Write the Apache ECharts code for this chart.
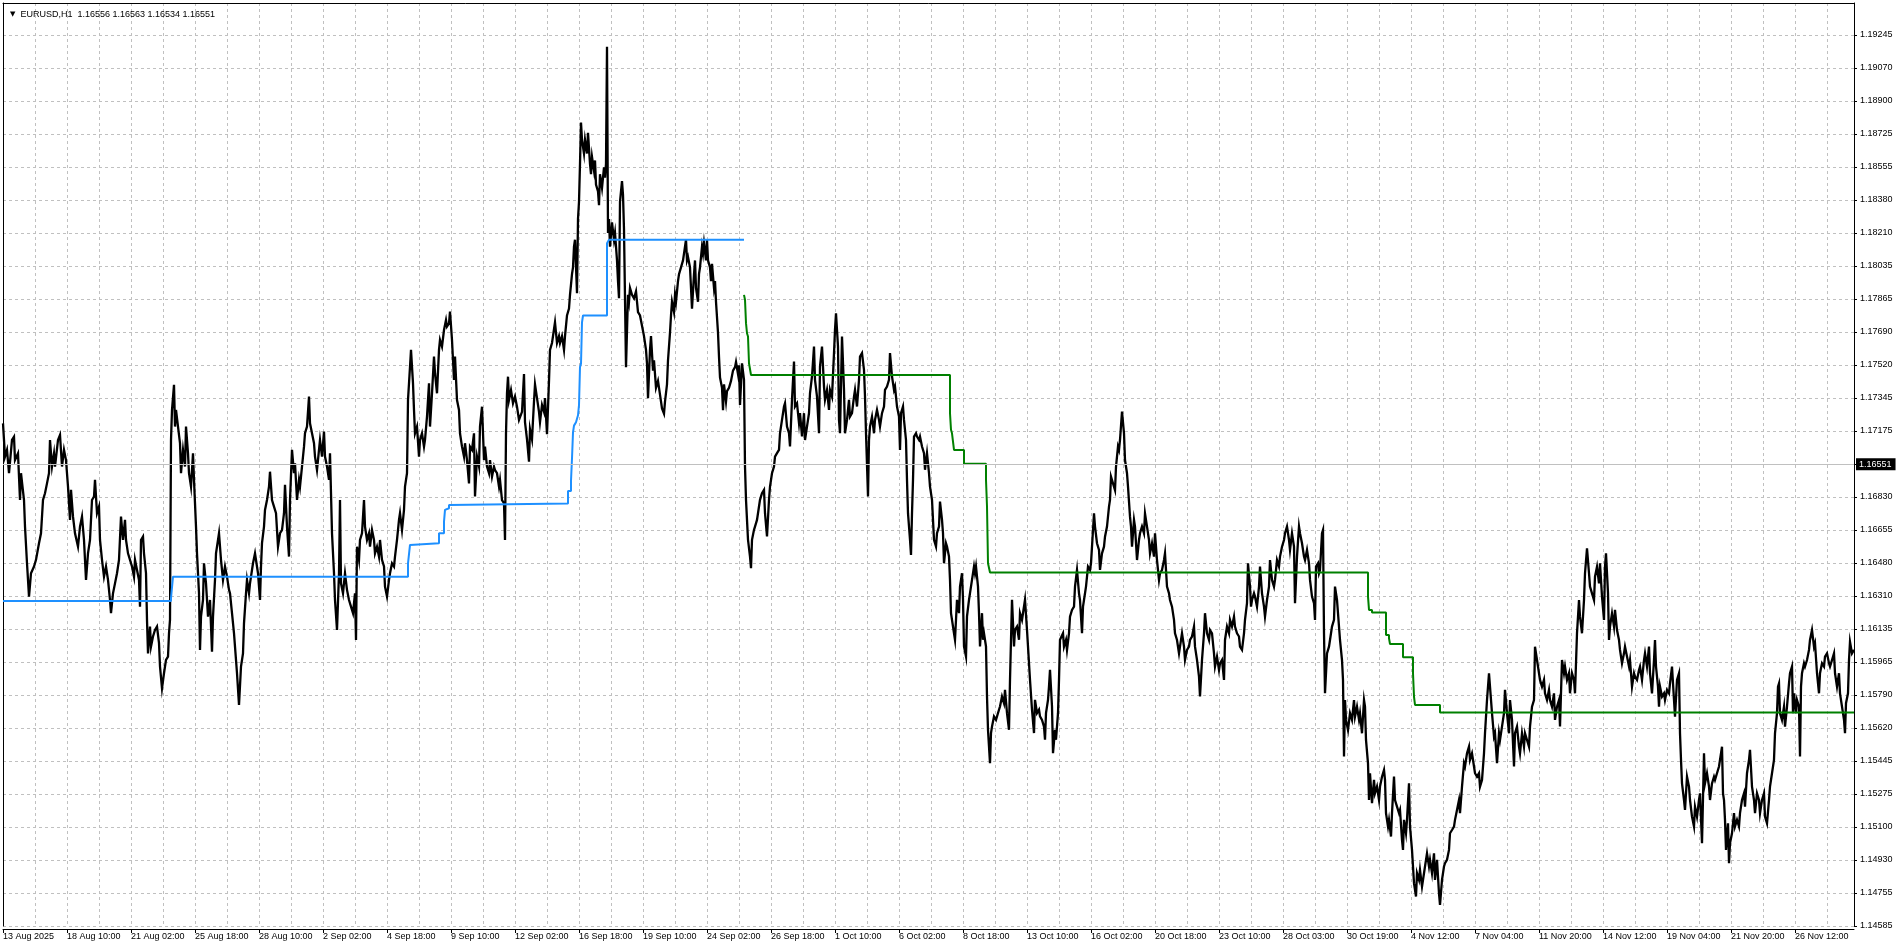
<!DOCTYPE html>
<html><head><meta charset="utf-8">
<script src="https://cdn.jsdelivr.net/npm/echarts@6/dist/echarts.min.js"></script>
<style>html,body{margin:0;padding:0;background:#fff;overflow:hidden}#c{width:1900px;height:950px}</style>
</head><body><div id="c"></div>
<script>
// ---------- header ----------
const symbolName = 'EURUSD,H1';
const lastOHLC = ['1.16556', '1.16563', '1.16534', '1.16551'];
const bidPrice = 1.16551;

// ---------- time axis (bar index, one H1 bar per step) ----------
const xTickLabels = ['13 Aug 2025','18 Aug 10:00','21 Aug 02:00','25 Aug 18:00','28 Aug 10:00','2 Sep 02:00','4 Sep 18:00','9 Sep 10:00','12 Sep 02:00','16 Sep 18:00','19 Sep 10:00','24 Sep 02:00','26 Sep 18:00','1 Oct 10:00','6 Oct 02:00','8 Oct 18:00','13 Oct 10:00','16 Oct 02:00','20 Oct 18:00','23 Oct 10:00','28 Oct 03:00','30 Oct 19:00','4 Nov 12:00','7 Nov 04:00','11 Nov 20:00','14 Nov 12:00','19 Nov 04:00','21 Nov 20:00','26 Nov 12:00'];
const barsPerLabel = 64;
const barsVisible = 1851;

// ---------- price axis labels (bottom to top) ----------
const yTickLabels = ['1.14585','1.14755','1.14930','1.15100','1.15275','1.15445','1.15620','1.15790','1.15965','1.16135','1.16310','1.16480','1.16655','1.16830','1.17000','1.17175','1.17345','1.17520','1.17690','1.17865','1.18035','1.18210','1.18380','1.18555','1.18725','1.18900','1.19070','1.19245'];

// ---------- price path [bar index, price] ----------
const pricePath = [
[0,1.17214],[2,1.17040],[4,1.17075],[6,1.16953],[9,1.17127],[11,1.17144],[12,1.17022],[15,1.17057],[17,1.16813],[18,1.16953],[20,1.16953],[21,1.16813],[22,1.16674],[24,1.16482],[26,1.16308],[28,1.16430],[31,1.16465],[33,1.16500],[36,1.16587],[38,1.16639],[40,1.16813],[42,1.16848],[44,1.16900],[46,1.16953],[47,1.17127],[49,1.16988],[51,1.17057],[52,1.16988],[55,1.17127],[57,1.17153],[59,1.16988],[61,1.17075],[63,1.17022],[65,1.16883],[67,1.16709],[68,1.16866],[70,1.16726],[72,1.16639],[75,1.16569],[77,1.16674],[79,1.16726],[81,1.16604],[83,1.16395],[85,1.16534],[87,1.16604],[89,1.16813],[91,1.16831],[92,1.16918],[94,1.16744],[96,1.16778],[97,1.16604],[99,1.16500],[101,1.16412],[103,1.16465],[105,1.16395],[107,1.16290],[108,1.16221],[110,1.16325],[112,1.16377],[114,1.16430],[116,1.16500],[118,1.16726],[120,1.16604],[122,1.16709],[123,1.16604],[125,1.16534],[127,1.16500],[129,1.16465],[131,1.16412],[132,1.16500],[134,1.16447],[136,1.16395],[137,1.16255],[138,1.16604],[140,1.16622],[141,1.16534],[143,1.16430],[144,1.16186],[145,1.16011],[147,1.16151],[148,1.16046],[150,1.16099],[152,1.16133],[154,1.16151],[156,1.16064],[157,1.15942],[159,1.15828],[161,1.15907],[163,1.15977],[165,1.15994],[166,1.16116],[167,1.16186],[168,1.17127],[169,1.17284],[171,1.17415],[172,1.17197],[173,1.17284],[175,1.17197],[177,1.17110],[178,1.16953],[180,1.17075],[182,1.16988],[183,1.17197],[185,1.17057],[186,1.16953],[188,1.16883],[190,1.17057],[191,1.16918],[193,1.16674],[194,1.16534],[196,1.16325],[197,1.16029],[198,1.16203],[200,1.16290],[201,1.16482],[203,1.16377],[205,1.16203],[207,1.16290],[209,1.16020],[210,1.16203],[212,1.16395],[213,1.16534],[215,1.16604],[216,1.16639],[218,1.16500],[220,1.16395],[222,1.16465],[224,1.16412],[226,1.16343],[227,1.16325],[229,1.16221],[231,1.16116],[232,1.16046],[234,1.15907],[236,1.15741],[238,1.15942],[240,1.16011],[241,1.16168],[243,1.16325],[244,1.16395],[246,1.16325],[247,1.16377],[250,1.16482],[252,1.16534],[255,1.16430],[257,1.16290],[258,1.16465],[259,1.16587],[261,1.16674],[262,1.16761],[264,1.16813],[266,1.16883],[267,1.16961],[269,1.16813],[271,1.16778],[273,1.16744],[275,1.16569],[277,1.16639],[279,1.16656],[281,1.16744],[282,1.16892],[284,1.16674],[286,1.16517],[287,1.16813],[289,1.17075],[291,1.16953],[292,1.17005],[294,1.16813],[296,1.16918],[297,1.16883],[299,1.16988],[301,1.17092],[302,1.17162],[304,1.17197],[306,1.17354],[307,1.17214],[309,1.17162],[311,1.17110],[312,1.17040],[314,1.16970],[316,1.17075],[317,1.17127],[319,1.17040],[321,1.17171],[322,1.17040],[324,1.16988],[326,1.16918],[327,1.17057],[328,1.16848],[329,1.16639],[331,1.16430],[332,1.16290],[334,1.16133],[336,1.16430],[337,1.16813],[338,1.16377],[340,1.16325],[342,1.16430],[344,1.16343],[346,1.16290],[348,1.16255],[350,1.16221],[352,1.16325],[353,1.16081],[354,1.16569],[356,1.16500],[357,1.16604],[359,1.16639],[361,1.16813],[362,1.16674],[364,1.16604],[366,1.16639],[367,1.16569],[369,1.16656],[371,1.16604],[372,1.16534],[374,1.16569],[376,1.16517],[377,1.16604],[379,1.16500],[381,1.16465],[382,1.16360],[384,1.16308],[386,1.16395],[387,1.16430],[389,1.16482],[391,1.16465],[392,1.16517],[394,1.16604],[396,1.16709],[397,1.16744],[399,1.16656],[401,1.16761],[402,1.16883],[404,1.16953],[405,1.17336],[407,1.17510],[408,1.17598],[410,1.17423],[411,1.17284],[412,1.17162],[414,1.17197],[416,1.17040],[417,1.17127],[419,1.17162],[421,1.17092],[422,1.17127],[424,1.17249],[426,1.17423],[427,1.17197],[429,1.17371],[431,1.17563],[432,1.17476],[434,1.17371],[436,1.17598],[437,1.17650],[439,1.17615],[441,1.17702],[443,1.17754],[444,1.17720],[446,1.17737],[447,1.17798],[449,1.17650],[451,1.17441],[452,1.17563],[454,1.17336],[456,1.17284],[457,1.17162],[459,1.17092],[461,1.17040],[462,1.17110],[464,1.17022],[466,1.16900],[467,1.17092],[469,1.17075],[471,1.17162],[472,1.16831],[474,1.17040],[476,1.16988],[477,1.17197],[479,1.17301],[481,1.17022],[482,1.17092],[484,1.16988],[486,1.16953],[487,1.17022],[489,1.16935],[491,1.16988],[492,1.16970],[494,1.16953],[496,1.16883],[497,1.16918],[499,1.16813],[501,1.16796],[502,1.16604],[503,1.17162],[504,1.17371],[505,1.17458],[506,1.17336],[508,1.17388],[510,1.17319],[512,1.17354],[514,1.17301],[516,1.17232],
[517,1.17238],[519,1.17274],[521,1.17472],[522,1.17220],[524,1.17130],[526,1.17013],[527,1.17184],[529,1.17130],[531,1.17328],[532,1.17418],[534,1.17346],[536,1.17274],[537,1.17220],[539,1.17310],[541,1.17274],[542,1.17346],[544,1.17157],[546,1.17436],[547,1.17598],[549,1.17634],[551,1.17706],[552,1.17742],[554,1.17634],[556,1.17670],[557,1.17634],[559,1.17670],[561,1.17598],[562,1.17670],[564,1.17778],[566,1.17814],[567,1.17886],[569,1.17994],[570,1.18030],[571,1.18138],[572,1.18174],[574,1.17895],[575,1.18283],[576,1.18373],[577,1.18571],[578,1.18787],[579,1.18697],[581,1.18625],[582,1.18697],[584,1.18625],[585,1.18733],[587,1.18571],[588,1.18517],[589,1.18607],[591,1.18535],[592,1.18589],[593,1.18463],[595,1.18427],[596,1.18355],[597,1.18517],[599,1.18445],[601,1.18553],[602,1.18499],[603,1.18571],[604,1.19183],[605,1.18210],[606,1.18283],[607,1.18138],[609,1.18265],[611,1.18174],[612,1.18210],[614,1.18066],[615,1.17958],[616,1.17868],[617,1.18373],[619,1.18481],[620,1.18409],[621,1.18228],[623,1.17508],[625,1.17886],[626,1.17850],[627,1.17922],[629,1.17886],[631,1.17868],[633,1.17904],[635,1.17796],[637,1.17778],[639,1.17724],[641,1.17670],[643,1.17598],[644,1.17526],[645,1.17346],[647,1.17598],[648,1.17670],[650,1.17490],[651,1.17544],[653,1.17400],[655,1.17436],[657,1.17364],[659,1.17292],[661,1.17265],[662,1.17328],[664,1.17418],[665,1.17544],[667,1.17688],[668,1.17778],[669,1.17850],[671,1.17796],[672,1.17886],[673,1.17850],[675,1.17958],[676,1.17994],[678,1.18030],[680,1.18066],[681,1.18102],[683,1.18174],[684,1.18066],[685,1.18084],[687,1.18030],[688,1.17922],[689,1.17814],[691,1.17994],[692,1.18066],[693,1.17922],[695,1.17850],[696,1.17994],[697,1.18030],[699,1.18138],[700,1.18102],[701,1.18156],[703,1.18066],[704,1.18174],[705,1.18066],[707,1.18030],[708,1.17958],[709,1.18048],[711,1.17922],[712,1.17958],[713,1.17850],[715,1.17688],[716,1.17562],[717,1.17454],[719,1.17400],[720,1.17283],[721,1.17418],[723,1.17328],[724,1.17382],[726,1.17400],[728,1.17436],[730,1.17490],[732,1.17508],[733,1.17535],[735,1.17472],[736,1.17517],[737,1.17310],
[739,1.17528],[741,1.17441],[742,1.16988],[743,1.16814],[744,1.16709],[745,1.16605],[747,1.16517],[748,1.16456],[749,1.16605],[751,1.16657],[752,1.16674],[754,1.16709],[756,1.16779],[757,1.16814],[759,1.16849],[761,1.16866],[762,1.16744],[764,1.16622],[766,1.16814],[767,1.16883],[769,1.16953],[771,1.16988],[772,1.17040],[774,1.17058],[776,1.17075],[777,1.17162],[779,1.17232],[781,1.17302],[782,1.17319],[784,1.17197],[786,1.17162],[787,1.17093],[789,1.17337],[791,1.17537],[792,1.17302],[794,1.17319],[796,1.17215],[797,1.17267],[799,1.17145],[801,1.17267],[802,1.17127],[804,1.17197],[806,1.17267],[807,1.17371],[809,1.17459],[811,1.17615],[812,1.17441],[814,1.17354],[816,1.17162],[817,1.17511],[819,1.17615],[821,1.17406],[822,1.17337],[824,1.17389],[826,1.17284],[827,1.17389],[829,1.17354],[831,1.17581],[832,1.17703],[833,1.17790],[835,1.17615],[836,1.17232],[837,1.17162],[839,1.17668],[841,1.17389],[842,1.17162],[844,1.17232],[846,1.17337],[847,1.17249],[849,1.17267],[851,1.17354],[852,1.17389],[854,1.17302],[856,1.17441],[857,1.17563],[859,1.17581],[861,1.17493],[862,1.17354],[863,1.17162],[865,1.16831],[866,1.17127],[867,1.17197],[869,1.17249],[871,1.17162],[872,1.17232],[874,1.17284],[876,1.17232],[877,1.17197],[879,1.17267],[881,1.17302],[882,1.17389],[884,1.17406],[886,1.17441],[887,1.17581],[889,1.17459],[891,1.17389],[892,1.17406],[894,1.17302],[896,1.17249],[897,1.17075],[898,1.17267],[900,1.17302],[901,1.17232],[903,1.17127],[904,1.16918],[905,1.16744],[907,1.16605],[908,1.16526],[909,1.16744],[910,1.16918],[911,1.17145],[913,1.17162],[914,1.17145],[916,1.17127],[917,1.17145],[919,1.17093],[921,1.17058],[922,1.16971],[924,1.17058],[926,1.16953],[927,1.16883],[929,1.16814],[930,1.16709],[931,1.16605],[933,1.16570],[934,1.16639],[936,1.16674],[937,1.16805],[939,1.16709],[940,1.16639],[941,1.16482],[943,1.16587],[944,1.16570],[946,1.16517],[947,1.16395],[948,1.16221],[949,1.16186],[951,1.16116],[952,1.16082],[954,1.16291],[956,1.16221],[957,1.16360],[959,1.16430],[960,1.16291],[961,1.16047],[963,1.15994],[964,1.16204],[966,1.16291],[967,1.16326],[969,1.16395],[971,1.16465],[972,1.16430],[973,1.16465],[975,1.16360],[976,1.16221],[977,1.16047],[979,1.16221],[980,1.16082],[981,1.16116],[983,1.16047],[984,1.15785],[985,1.15611],[987,1.15437],[988,1.15594],[989,1.15628],[991,1.15681],[993,1.15663],[996,1.15716],[997,1.15733],[999,1.15785],[1001,1.15750],[1002,1.15820],[1004,1.15698],[1006,1.15611],[1007,1.15872],[1009,1.16291],[1011,1.16047],[1012,1.16134],[1014,1.16151],[1016,1.16082],[1017,1.16221],[1019,1.16186],[1021,1.16256],[1022,1.16291],[1024,1.16134],[1026,1.15960],[1027,1.15872],[1029,1.15716],[1031,1.15594],[1032,1.15768],[1034,1.15698],[1036,1.15716],[1037,1.15681],[1039,1.15663],[1041,1.15628],[1042,1.15559],[1043,1.15698],[1045,1.15768],[1046,1.15838],[1047,1.15925],[1049,1.15733],[1050,1.15489],[1052,1.15611],[1053,1.15559],[1055,1.15698],[1056,1.15872],[1057,1.16082],
[1059,1.16081],[1060,1.16116],[1061,1.16046],[1063,1.16081],[1064,1.16029],[1066,1.16116],[1067,1.16203],[1069,1.16238],[1071,1.16255],[1072,1.16360],[1074,1.16447],[1076,1.16325],[1077,1.16290],[1079,1.16116],[1080,1.16255],[1081,1.16290],[1083,1.16360],[1084,1.16412],[1085,1.16465],[1087,1.16447],[1088,1.16482],[1089,1.16569],[1091,1.16743],[1092,1.16674],[1094,1.16587],[1096,1.16552],[1097,1.16447],[1099,1.16534],[1101,1.16569],[1102,1.16621],[1104,1.16674],[1106,1.16778],[1107,1.16813],[1108,1.16935],[1110,1.16900],[1112,1.16865],[1113,1.16987],[1115,1.17092],[1116,1.17075],[1117,1.17127],[1119,1.17275],[1121,1.17162],[1122,1.17022],[1124,1.16953],[1125,1.16883],[1127,1.16726],[1128,1.16674],[1129,1.16569],[1131,1.16709],[1132,1.16674],[1134,1.16499],[1136,1.16604],[1137,1.16639],[1139,1.16674],[1141,1.16639],[1142,1.16743],[1144,1.16674],[1146,1.16604],[1147,1.16534],[1149,1.16587],[1151,1.16517],[1152,1.16639],[1154,1.16499],[1156,1.16395],[1157,1.16430],[1159,1.16447],[1161,1.16499],[1162,1.16534],[1164,1.16360],[1166,1.16325],[1167,1.16290],[1169,1.16255],[1171,1.16186],[1172,1.16116],[1174,1.16081],[1176,1.16011],[1177,1.16046],[1179,1.16116],[1181,1.16046],[1182,1.15977],[1184,1.16029],[1186,1.16046],[1187,1.16081],[1189,1.16099],[1191,1.16151],[1192,1.16046],[1194,1.15977],[1196,1.15889],[1197,1.15785],[1199,1.15977],[1201,1.16116],[1202,1.16221],[1204,1.16116],[1206,1.16081],[1207,1.16133],[1209,1.16116],[1211,1.16011],[1212,1.15942],[1214,1.15994],[1216,1.15924],[1217,1.15959],[1219,1.15977],[1221,1.15872],[1222,1.16081],[1224,1.16151],[1226,1.16116],[1227,1.16186],[1229,1.16151],[1231,1.16203],[1232,1.16151],[1234,1.16116],[1236,1.16099],[1237,1.16046],[1239,1.16029],[1241,1.16116],[1242,1.16186],[1244,1.16273],[1245,1.16482],[1247,1.16360],[1248,1.16255],[1249,1.16290],[1251,1.16325],[1252,1.16308],[1254,1.16255],[1256,1.16360],[1257,1.16465],[1259,1.16325],[1261,1.16255],[1262,1.16203],[1264,1.16290],[1266,1.16360],[1267,1.16499],[1269,1.16395],[1271,1.16360],[1272,1.16395],[1274,1.16499],[1276,1.16465],[1277,1.16517],[1279,1.16569],[1281,1.16604],[1282,1.16639],[1284,1.16674],[1286,1.16604],[1287,1.16552],[1289,1.16639],[1291,1.16569],[1292,1.16273],[1294,1.16517],[1296,1.16674],[1297,1.16639],[1299,1.16587],[1301,1.16517],[1302,1.16499],[1304,1.16552],[1306,1.16482],[1307,1.16395],[1309,1.16308],[1311,1.16273],[1312,1.16186],[1313,1.16465],[1315,1.16482],[1316,1.16430],[1317,1.16447],[1319,1.16639],[1320,1.16656],[1321,1.16116],[1322,1.15802],[1324,1.16011],[1326,1.16046],[1327,1.16081],[1329,1.16151],[1331,1.16186],[1332,1.16360],[1334,1.16290],[1336,1.16151],
[1337,1.16081],[1339,1.15976],[1340,1.15872],[1341,1.15471],[1342,1.15767],[1343,1.15663],[1345,1.15610],[1347,1.15698],[1349,1.15663],[1351,1.15767],[1352,1.15680],[1354,1.15732],[1356,1.15663],[1357,1.15698],[1359,1.15593],[1361,1.15767],[1362,1.15732],[1363,1.15558],[1365,1.15436],[1366,1.15244],[1367,1.15384],[1369,1.15227],[1371,1.15349],[1372,1.15279],[1374,1.15314],[1376,1.15244],[1377,1.15314],[1379,1.15366],[1381,1.15401],[1382,1.15349],[1383,1.15175],[1385,1.15105],[1386,1.15140],[1388,1.15053],[1389,1.15175],[1391,1.15366],[1392,1.15244],[1394,1.15209],[1396,1.15175],[1397,1.15192],[1399,1.15035],[1400,1.14983],[1401,1.15140],[1403,1.15070],[1404,1.15140],[1406,1.15331],[1407,1.15105],[1409,1.14983],[1410,1.14896],[1411,1.14809],[1413,1.14739],[1414,1.14861],[1416,1.14826],[1417,1.14878],[1419,1.14791],[1421,1.14861],[1422,1.14896],[1424,1.14965],[1426,1.14896],[1427,1.14931],[1429,1.14861],[1431,1.14965],[1432,1.14826],[1434,1.14931],[1436,1.14756],[1437,1.14695],[1439,1.14826],[1441,1.14896],[1442,1.14913],[1444,1.14931],[1446,1.14983],[1447,1.15070],[1449,1.15087],[1451,1.15105],[1452,1.15140],[1454,1.15192],[1456,1.15244],[1457,1.15175],[1459,1.15314],[1461,1.15436],[1462,1.15419],[1464,1.15488],[1466,1.15523],[1467,1.15454],[1469,1.15488],[1471,1.15419],[1472,1.15384],[1474,1.15366],[1476,1.15384],[1477,1.15314],[1479,1.15349],[1481,1.15488],[1482,1.15593],[1484,1.15767],[1486,1.15907],[1487,1.15837],[1489,1.15698],[1491,1.15576],[1492,1.15593],[1494,1.15436],[1496,1.15593],[1497,1.15558],[1499,1.15628],[1501,1.15698],[1502,1.15820],[1504,1.15698],[1506,1.15593],[1507,1.15767],[1509,1.15663],[1511,1.15419],[1512,1.15593],[1514,1.15628],[1516,1.15523],[1517,1.15488],[1519,1.15593],[1521,1.15523],[1522,1.15593],[1524,1.15558],[1526,1.15523],[1527,1.15628],[1529,1.15732],[1531,1.15767],[1532,1.16046],[1534,1.15976],[1536,1.15907],[1537,1.15872],[1539,1.15837],[1541,1.15872],[1542,1.15802],[1544,1.15767],[1546,1.15820],[1547,1.15767],[1549,1.15732],[1551,1.15802],[1552,1.15663],[1554,1.15732],[1556,1.15767],[1557,1.15628],[1559,1.15976],[1561,1.15907],[1562,1.15942],[1564,1.15872],[1566,1.15907],[1567,1.15802],[1569,1.15907],[1571,1.15872],[1572,1.15802],[1574,1.16116],[1576,1.16290],[1577,1.16203],[1579,1.16116],[1581,1.16290],[1582,1.16430],[1584,1.16560],[1586,1.16430],[1587,1.16360],[1589,1.16325],[1591,1.16290],[1592,1.16412],[1594,1.16464],[1596,1.16377],[1597,1.16482],[1599,1.16308],[1601,1.16186],[1602,1.16464],[1603,1.16534],[1605,1.16325],[1606,1.16081],[1607,1.16151],[1609,1.16220],[1611,1.16151],[1612,1.16238],[1614,1.16133],[1616,1.16081],[1617,1.16029],[1619,1.15959],[1621,1.16011],[1622,1.16046],[1624,1.15994],[1626,1.15942],[1627,1.15976],[1629,1.15837],[1631,1.15907],[1632,1.15889],[1634,1.15872],[1636,1.15924],[1637,1.15942],[1639,1.15872],[1641,1.15976],[1642,1.16011],[1644,1.15942],[1646,1.16046],[1647,1.15907],[1649,1.15802],[1651,1.15976],[1652,1.16081],[1653,1.15942],[1655,1.15837],[1656,1.15732],[1657,1.15837],[1659,1.15785],[1661,1.15802],[1662,1.15767],[1664,1.15820],[1666,1.15802],[1667,1.15854],[1669,1.15942],[1671,1.15767],[1672,1.15680],[1674,1.15872],[1676,1.15907],[1677,1.15593],[1678,1.15454],[1679,1.15331],[1681,1.15244],[1682,1.15192],[1684,1.15366],[1686,1.15314],[1687,1.15244],[1689,1.15157],[1691,1.15105],[1692,1.15209],[1694,1.15157],[1696,1.15244],[1697,1.15279],[1699,1.15018],[1701,1.15488],[1702,1.15331],[1704,1.15384],[1706,1.15314],[1707,1.15244],[1709,1.15331],[1711,1.15366],[1712,1.15349],[1714,1.15384],[1716,1.15419],[1717,1.15454],
[1719,1.15523],[1720,1.15279],[1721,1.15244],[1722,1.15140],[1723,1.14983],[1725,1.15122],[1726,1.14913],[1727,1.15018],[1729,1.15070],[1731,1.15175],[1732,1.15105],[1734,1.15140],[1736,1.15105],[1737,1.15175],[1739,1.15244],[1741,1.15279],[1742,1.15209],[1744,1.15384],[1746,1.15454],[1747,1.15506],[1749,1.15314],[1751,1.15244],[1752,1.15175],[1754,1.15279],[1756,1.15244],[1757,1.15175],[1759,1.15244],[1761,1.15279],[1762,1.15157],[1764,1.15122],[1766,1.15244],[1767,1.15314],[1769,1.15384],[1771,1.15454],[1772,1.15593],[1774,1.15698],[1775,1.15837],[1776,1.15854],[1777,1.15698],[1779,1.15663],[1781,1.15732],[1782,1.15628],[1784,1.15732],[1786,1.15854],[1787,1.15907],[1789,1.15942],[1790,1.15698],[1791,1.15802],[1793,1.15698],[1794,1.15767],[1796,1.15732],[1797,1.15471],[1798,1.15837],[1799,1.15907],[1801,1.15959],[1802,1.15942],[1804,1.15976],[1806,1.16029],[1807,1.16081],[1809,1.16133],[1811,1.16046],[1812,1.16064],[1814,1.15907],[1816,1.15802],[1817,1.15907],[1819,1.15959],[1821,1.15942],[1822,1.15994],[1824,1.16011],[1826,1.15959],[1827,1.15942],[1829,1.15976],[1831,1.16011],[1832,1.15907],[1834,1.15837],[1836,1.15907],[1837,1.15802],[1839,1.15732],[1841,1.15663],[1842,1.15593],[1843,1.15750],[1845,1.15802],[1846,1.15976],[1847,1.16072],[1849,1.16011],[1851,1.16029]
];

// ---------- trailing step lines: level start bar and level ----------
const blueStart = [0,168,170,405,407,409,436,441,442,444,446,448,565,568,569,570,571,573,575,576,577,578,579,580,604,606,741];
const blueLevel = [1.16285,1.16300,1.16412,1.16482,1.16578,1.16587,1.16639,1.16700,1.16761,1.16770,1.16787,1.16795,1.16860,1.16914,1.17031,1.17166,1.17202,1.17220,1.17256,1.17310,1.17508,1.17526,1.17742,1.17778,1.18156,1.18174,1.18174];
const greenStart = [741,742,743,744,745,746,748,947,948,949,951,961,983,984,985,986,987,1365,1366,1369,1383,1386,1387,1400,1410,1411,1412,1437,1851];
const greenLevel = [1.17886,1.17860,1.17738,1.17685,1.17668,1.17528,1.17467,1.17267,1.17180,1.17162,1.17075,1.17002,1.16918,1.16779,1.16482,1.16473,1.16434,1.16308,1.16238,1.16224,1.16107,1.16090,1.16060,1.15990,1.15907,1.15785,1.15741,1.15701,1.15701];

// ---------- scale helpers ----------
const yMin = Number(yTickLabels[0]);
const yTop = Number(yTickLabels[yTickLabels.length - 1]);
const yStep = (yTop - yMin) / (yTickLabels.length - 1);
const yMax = yMin + yStep * (yTickLabels.length - 1) * (923 / 891);

const FONT = 'Liberation Sans, Arial, sans-serif';
const gridLine = { show: true, lineStyle: { color: '#c0c0c0', type: [3, 3], width: 1 } };

const zip = (a, b) => a.map((v, i) => [v, b[i]]);

const chart = echarts.init(document.getElementById('c'), null, { renderer: 'canvas' });
chart.setOption({
  animation: false,
  backgroundColor: '#ffffff',
  title: {
    left: 5, top: 5,
    text: '{t|▼}  ' + symbolName + '  ' + lastOHLC.join(' '),
    textStyle: { fontFamily: FONT, fontSize: 9, fontWeight: 'normal', color: '#000',
      rich: { t: { fontSize: 7, color: '#000', fontFamily: 'DejaVu Sans' } } }
  },
  grid: { left: 3, right: 46, top: 3, bottom: 24, containLabel: false },
  xAxis: [
    { type: 'value', min: 0, max: barsVisible, interval: barsPerLabel / 2, position: 'bottom',
      axisLine: { show: false }, axisTick: { show: false }, axisLabel: { show: false }, splitLine: gridLine },
    { type: 'value', min: 0, max: barsVisible, interval: barsPerLabel, position: 'bottom', offset: 3,
      axisLine: { show: true, onZero: false, lineStyle: { color: '#000', width: 1 } },
      axisTick: { show: true, length: 4, lineStyle: { color: '#000' } },
      axisLabel: { show: true, margin: 3, align: 'left', color: '#000', fontFamily: FONT, fontSize: 9,
        showMaxLabel: false,
        formatter: v => { const i = Math.round(v / barsPerLabel); return (Math.abs(v - i * barsPerLabel) < 0.01 && xTickLabels[i]) ? xTickLabels[i] : ''; } },
      splitLine: { show: false } },
    { type: 'value', min: 0, max: barsVisible, position: 'top',
      axisLine: { show: true, onZero: false, lineStyle: { color: '#000', width: 1 } },
      axisTick: { show: false }, axisLabel: { show: false }, splitLine: { show: false } }
  ],
  yAxis: [
    { type: 'value', min: yMin, max: yMax, interval: yStep, position: 'right', scale: true,
      axisLine: { show: true, onZero: false, lineStyle: { color: '#000', width: 1 } },
      axisTick: { show: true, length: 3, lineStyle: { color: '#000' } },
      axisLabel: { show: true, margin: 6, color: '#000', fontFamily: FONT, fontSize: 9, showMaxLabel: false,
        formatter: v => { const i = Math.round((v - yMin) / yStep); return (Math.abs(v - (yMin + i * yStep)) < 1e-7 && yTickLabels[i]) ? yTickLabels[i] : ''; } },
      splitLine: gridLine },
    { type: 'value', min: yMin, max: yMax, position: 'left', scale: true,
      axisLine: { show: true, onZero: false, lineStyle: { color: '#000', width: 1 } },
      axisTick: { show: false }, axisLabel: { show: false }, splitLine: { show: false } }
  ],
  series: [
    { name: 'price', type: 'line', xAxisIndex: 0, yAxisIndex: 0, data: pricePath, showSymbol: false, symbol: 'none',
      lineStyle: { color: '#000', width: 2.3, join: 'miter' }, z: 2, silent: true,
      markLine: { silent: true, symbol: ['none', 'none'], animation: false,
        lineStyle: { color: '#c0c0c0', type: 'solid', width: 1 },
        label: { show: true, position: 'end', distance: 2, formatter: () => bidPrice.toFixed(5),
          backgroundColor: '#000', color: '#fff', fontFamily: FONT, fontSize: 9, padding: [2, 4, 1, 3] },
        data: [{ yAxis: bidPrice }] } },
    { name: 'blue', type: 'line', xAxisIndex: 0, yAxisIndex: 0, step: 'end', data: zip(blueStart, blueLevel),
      showSymbol: false, symbol: 'none', lineStyle: { color: '#1e90ff', width: 2 }, z: 3, silent: true },
    { name: 'green', type: 'line', xAxisIndex: 0, yAxisIndex: 0, step: 'end', data: zip(greenStart, greenLevel),
      showSymbol: false, symbol: 'none', lineStyle: { color: '#008000', width: 2 }, z: 3, silent: true }
  ]
});
</script>
</body></html>
